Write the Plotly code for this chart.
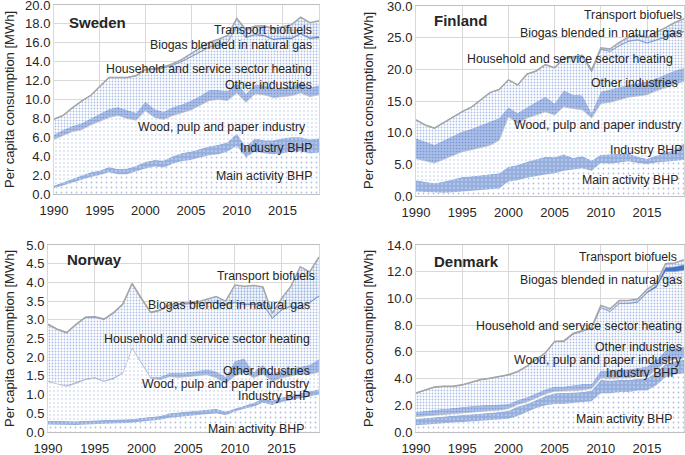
import plotly.graph_objects as go

years = list(range(1990, 2020))
series_names = ["Main activity BHP", "Industry BHP", "Wood, pulp and paper industry",
                "Other industries", "Household and service sector heating",
                "Biogas blended in natural gas", "Transport biofuels"]

# ---------------- Sweden ----------------
se_main = [0.6,0.9,1.2,1.5,1.8,2.0,2.3,2.1,2.1,2.4,2.7,2.9,2.8,3.2,3.5,3.6,3.9,4.1,4.2,4.5,5.1,3.9,4.5,4.3,4.2,4.3,4.5,4.5,4.3,4.4]
se_ind = [0.3,0.35,0.4,0.45,0.5,0.5,0.55,0.55,0.6,0.6,0.7,0.7,0.75,0.8,0.85,0.9,0.9,0.95,1.0,1.0,1.3,1.1,1.4,1.4,1.5,1.6,1.5,1.5,1.5,1.5]
se_wood = [4.9,4.95,5.0,4.85,5.0,5.2,5.25,5.65,5.3,4.8,5.4,4.5,4.35,4.3,4.25,4.4,4.6,4.85,4.8,4.4,4.3,4.7,4.7,4.8,4.5,4.4,4.4,4.7,4.5,4.6]
se_other = [0.5,0.6,0.6,0.7,0.7,0.8,0.9,0.9,0.9,0.8,1.0,0.9,0.8,0.9,0.9,1.0,1.0,1.1,1.0,1.0,1.1,0.9,1.0,1.0,0.9,1.0,1.0,1.1,1.0,1.0]
se_house = [1.6,1.5,1.9,2.3,2.4,2.8,3.3,3.1,3.4,3.9,3.3,4.2,4.6,4.4,4.5,4.6,4.6,4.5,4.7,5.1,5.9,5.9,5.2,5.2,5.2,5.1,5.0,5.1,5.1,5.0]
se_biogas = [0.02,0.02,0.02,0.02,0.02,0.03,0.03,0.03,0.03,0.03,0.04,0.04,0.05,0.05,0.05,0.05,0.06,0.06,0.07,0.07,0.08,0.08,0.09,0.1,0.1,0.11,0.12,0.12,0.13,0.14]
se_transport = [0,0,0,0,0,0,0,0,0,0,0.05,0.05,0.1,0.15,0.2,0.3,0.4,0.5,0.6,0.7,0.8,0.8,0.9,1.0,1.1,1.2,1.4,1.7,1.6,1.7]

# ---------------- Finland ----------------
fi_main = [0.7,0.6,0.5,0.5,0.6,0.7,0.8,0.9,1.0,1.2,2.3,2.5,2.9,3.2,3.4,3.6,4.0,4.2,4.4,4.0,5.2,5.1,5.3,5.5,5.2,5.0,5.3,5.4,5.5,5.7]
fi_ind = [1.8,1.6,1.5,1.8,2.0,2.3,2.3,2.4,2.5,2.4,2.3,2.4,2.5,2.6,2.8,2.5,2.6,1.8,1.9,1.6,1.3,1.5,1.3,1.2,1.0,0.9,1.1,1.5,1.8,2.6]
fi_wood = [3.4,3.3,3.2,3.5,3.8,4.0,4.2,4.4,4.5,5.2,7.9,6.6,6.9,7.0,7.1,6.7,7.5,7.8,7.3,6.7,8.1,8.2,8.6,8.9,9.6,10.1,10.2,10.2,10.3,9.8]
fi_other = [3.2,3.1,2.9,3.0,3.1,3.2,3.3,3.5,3.8,3.5,1.5,1.6,1.7,2.0,2.4,1.8,2.6,2.2,2.3,0.8,1.9,2.0,2.0,2.0,2.0,2.1,2.0,2.1,2.2,2.1]
fi_house = [2.9,2.6,2.6,2.8,2.9,3.1,3.4,4.0,4.5,4.5,4.3,4.4,5.2,4.9,5.0,5.6,5.0,5.9,6.1,6.5,6.6,6.0,6.5,6.8,6.8,6.0,6.0,5.8,5.7,5.7]
fi_biogas = [0.02,0.02,0.02,0.02,0.03,0.03,0.03,0.03,0.03,0.03,0.04,0.04,0.04,0.04,0.05,0.05,0.05,0.05,0.05,0.05,0.06,0.06,0.07,0.07,0.07,0.08,0.08,0.09,0.1,0.1]
fi_transport = [0,0,0,0,0,0,0,0,0,0,0,0,0,0,0,0,0,0.05,0.15,0.25,0.25,0.35,0.5,0.6,0.8,0.8,1.2,1.5,1.8,2.0]

# ---------------- Norway ----------------
no_main = [0.2,0.19,0.18,0.19,0.2,0.21,0.22,0.22,0.23,0.25,0.28,0.3,0.33,0.38,0.4,0.43,0.45,0.48,0.5,0.45,0.55,0.62,0.68,0.78,0.72,0.8,0.86,0.9,0.95,1.0]
no_ind = [0.1,0.1,0.1,0.1,0.1,0.1,0.1,0.1,0.1,0.1,0.1,0.1,0.1,0.12,0.12,0.12,0.12,0.12,0.12,0.1,0.08,0.08,0.1,0.12,0.12,0.12,0.12,0.13,0.13,0.14]
no_wood = [1.05,0.99,0.94,1.01,1.1,1.13,1.03,1.1,1.24,1.89,1.46,1.04,0.97,0.98,0.94,0.93,0.93,0.93,0.83,0.75,0.87,0.9,0.67,0.65,0.51,0.53,0.52,0.52,0.47,0.46]
no_other = [0.03,0.02,0.03,0.03,0.03,0.03,0.03,0.04,0.03,0.03,0.04,0.04,0.08,0.1,0.12,0.12,0.13,0.15,0.17,0.18,0.4,0.37,0.15,0.25,0.2,0.2,0.2,0.2,0.25,0.35]
no_house = [1.48,1.43,1.39,1.53,1.62,1.59,1.62,1.71,1.8,1.68,1.67,1.7,1.76,1.8,1.82,1.82,1.79,1.77,1.83,1.92,1.55,1.43,1.8,1.6,1.48,1.6,1.65,1.55,1.65,1.67]
no_biogas = [0.02,0.02,0.02,0.02,0.02,0.02,0.02,0.02,0.02,0.02,0.02,0.02,0.02,0.02,0.02,0.02,0.02,0.02,0.02,0.02,0.02,0.02,0.02,0.02,0.02,0.02,0.02,0.02,0.02,0.02]
no_transport = [0,0,0,0,0,0,0,0,0,0,0,0,0,0,0.01,0.02,0.04,0.08,0.15,0.08,0.46,0.48,0.5,0.46,0.12,0.3,0.53,1.1,0.81,1.04]

# ---------------- Denmark ----------------
dk_main = [0.5,0.55,0.6,0.65,0.7,0.75,0.8,0.85,0.9,0.95,1.0,1.2,1.5,1.8,2.0,2.1,2.1,2.2,2.25,2.3,2.9,2.9,3.0,3.0,3.1,3.1,3.5,4.1,4.3,4.4]
dk_ind = [0.5,0.5,0.5,0.5,0.5,0.5,0.5,0.5,0.55,0.55,0.6,0.7,0.6,0.6,0.7,0.8,0.8,0.75,0.75,0.8,1.0,0.95,0.9,0.9,0.9,0.9,1.0,1.0,1.0,1.0]
dk_wood = [0.15,0.15,0.15,0.15,0.15,0.15,0.15,0.15,0.15,0.15,0.15,0.15,0.15,0.15,0.15,0.15,0.15,0.15,0.15,0.15,0.15,0.15,0.15,0.15,0.15,0.15,0.15,0.15,0.15,0.15]
dk_other = [0.35,0.4,0.45,0.45,0.45,0.5,0.5,0.5,0.45,0.45,0.35,0.35,0.35,0.35,0.35,0.35,0.35,0.4,0.45,0.35,0.55,0.6,0.65,0.65,0.65,0.75,0.75,0.85,0.85,0.85]
dk_house = [1.4,1.5,1.65,1.65,1.6,1.6,1.75,1.9,1.95,2.0,2.15,2.1,2.3,2.5,2.7,3.35,3.35,3.8,3.9,4.15,4.7,4.4,4.9,4.9,4.9,5.5,5.4,5.9,5.7,5.7]
dk_biogas = [0.02,0.02,0.02,0.02,0.02,0.03,0.03,0.03,0.03,0.03,0.03,0.03,0.03,0.03,0.03,0.03,0.03,0.03,0.03,0.03,0.03,0.03,0.04,0.04,0.05,0.08,0.15,0.3,0.35,0.4]
dk_transport = [0,0,0,0,0,0,0,0,0,0,0,0,0,0,0,0,0.05,0.05,0.05,0.05,0.15,0.2,0.2,0.2,0.2,0.2,0.2,0.3,0.3,0.4]

countries = [
    ("Sweden", [se_main, se_ind, se_wood, se_other, se_house, se_biogas, se_transport]),
    ("Finland", [fi_main, fi_ind, fi_wood, fi_other, fi_house, fi_biogas, fi_transport]),
    ("Norway", [no_main, no_ind, no_wood, no_other, no_house, no_biogas, no_transport]),
    ("Denmark", [dk_main, dk_ind, dk_wood, dk_other, dk_house, dk_biogas, dk_transport]),
]

BLUE = "#4472C4"
DOT = "#5B80CC"
styles = [
    dict(fillcolor="white", fp=dict(shape=".", fgcolor=DOT, size=5, solidity=0.1), line=dict(width=0, color=BLUE)),
    dict(fillcolor="#95AEDD", fp=dict(shape=".", fgcolor="#D0DBF0", size=4, solidity=0.3), line=dict(width=0, color="#95AEDD")),
    dict(fillcolor="white", fp=dict(shape=".", fgcolor=DOT, size=4, solidity=0.1), line=dict(width=0.8, color="#BFBFBF")),
    dict(fillcolor="#A9BDE6", fp=dict(shape=".", fgcolor=BLUE, size=3, solidity=0.25), line=dict(width=0, color="#A9BDE6")),
    dict(fillcolor="white", fp=dict(shape=".", fgcolor=DOT, size=3, solidity=0.3), line=dict(width=0.6, color="#BFBFBF")),
    dict(fillcolor=BLUE, fp=None, line=dict(width=0.5, color=BLUE)),
    dict(fillcolor="white", fp=dict(shape=".", fgcolor=BLUE, size=3, solidity=0.45), line=dict(width=1.5, color="#A6A6A6")),
]

# axis layout: (x domain, y domain, y max, y dtick)
geo = [
    ([54/685, 319/685], [1-194/455, 1-5/455], 20, 2),
    ([416/685, 684/685], [1-196/455, 1-6/455], 30, 5),
    ([48/685, 319/685], [1-432/455, 1-245/455], 5, 0.5),
    ([416/685, 684/685], [1-432/455, 1-245/455], 14, 2),
]

FONT = "Liberation Sans"
TXT = "#262626"
fig = go.Figure()
for i, (cname, vals) in enumerate(countries):
    ax = "" if i == 0 else str(i + 1)
    for s, (name, v) in enumerate(zip(series_names, vals)):
        st = styles[s]
        kw = dict(x=years, y=v, name=name, mode="lines", stackgroup=cname,
                  xaxis="x" + ax, yaxis="y" + ax, line=st["line"],
                  fillcolor=st["fillcolor"], showlegend=False, hoverinfo="skip")
        if st["fp"] is not None:
            kw["fillpattern"] = dict(fillmode="overlay", **st["fp"])
        fig.add_trace(go.Scatter(**kw))
    xd, yd, ymax, dt = geo[i]
    fig.layout["xaxis" + ax] = dict(domain=xd, anchor="y" + ax, range=[1990, 2019], dtick=5, tick0=1990,
                                    showgrid=True, gridcolor="#D9D9D9", showline=True, linecolor="#BFBFBF",
                                    mirror=True, ticks="", tickfont=dict(size=13, color=TXT, family=FONT),
                                    automargin=False, zeroline=False, ticklabeloverflow="allow",
                                    ticklabelstandoff=4)
    fig.layout["yaxis" + ax] = dict(domain=yd, anchor="x" + ax, range=[0, ymax], dtick=dt, tick0=0,
                                    tickformat=".1f", showgrid=True, gridcolor="#D9D9D9", showline=True,
                                    linecolor="#D9D9D9", mirror=True, ticks="",
                                    tickfont=dict(size=13, color=TXT, family=FONT),
                                    automargin=False, zeroline=False, ticklabeloverflow="allow")

ann = []
# y-axis titles
for xpix, ypix in [(9, 100), (368, 101), (9, 339), (368, 339)]:
    ann.append(dict(text="Per capita consumption [MWh]", xref="paper", yref="paper",
                    x=xpix/685, y=1-ypix/455, textangle=-90, showarrow=False,
                    font=dict(size=13, color=TXT, family=FONT), xanchor="center", yanchor="middle"))

labels = {
    "Sweden": [(2018.5, 17.4), (2018.5, 15.8), (2018.5, 13.2), (2018.5, 11.5), (2017.8, 7.1), (2018.5, 4.9), (2018.5, 1.9)],
    "Finland": [(2019, 28.6), (2019, 25.8), (2018.0, 21.6), (2018.6, 17.9), (2019, 11.2), (2019, 7.2), (2018.6, 2.6)],
    "Norway": [(2018.8, 4.17), (2018.3, 3.39), (2018.3, 2.5), (2018.3, 1.63), (2018.3, 1.29), (2018.3, 0.95), (2017.6, 0.09)],
    "Denmark": [(2018.5, 13.1), (2019, 11.4), (2019, 7.9), (2019, 6.4), (2019, 5.4), (2018.6, 4.4), (2017.9, 1.0)],
}
order_names = ["Transport biofuels", "Biogas blended in natural gas", "Household and service sector heating",
               "Other industries", "Wood, pulp and paper industry", "Industry BHP", "Main activity BHP"]
titles = {"Sweden": (1991.4, 18.1), "Finland": (1991.7, 27.7), "Norway": (1991.8, 4.6), "Denmark": (1991.7, 12.8)}
for i, (cname, _) in enumerate(countries):
    ax = "" if i == 0 else str(i + 1)
    for txt, (lx, ly) in zip(order_names, labels[cname]):
        ann.append(dict(text=txt, x=lx, y=ly, xref="x" + ax, yref="y" + ax, showarrow=False,
                        xanchor="right", yanchor="middle", font=dict(size=12.3, color=TXT, family=FONT)))
    tx, ty = titles[cname]
    ann.append(dict(text="<b>" + cname + "</b>", x=tx, y=ty, xref="x" + ax, yref="y" + ax, showarrow=False,
                    xanchor="left", yanchor="middle", font=dict(size=15, color=TXT, family=FONT)))

fig.update_layout(width=685, height=455, margin=dict(l=0, r=0, t=0, b=0),
                  paper_bgcolor="white", plot_bgcolor="white", annotations=ann,
                  font=dict(family=FONT, color=TXT))
fig.write_html("out.html", config={"displayModeBar": False},
               post_script="document.body.style.margin='0';")
